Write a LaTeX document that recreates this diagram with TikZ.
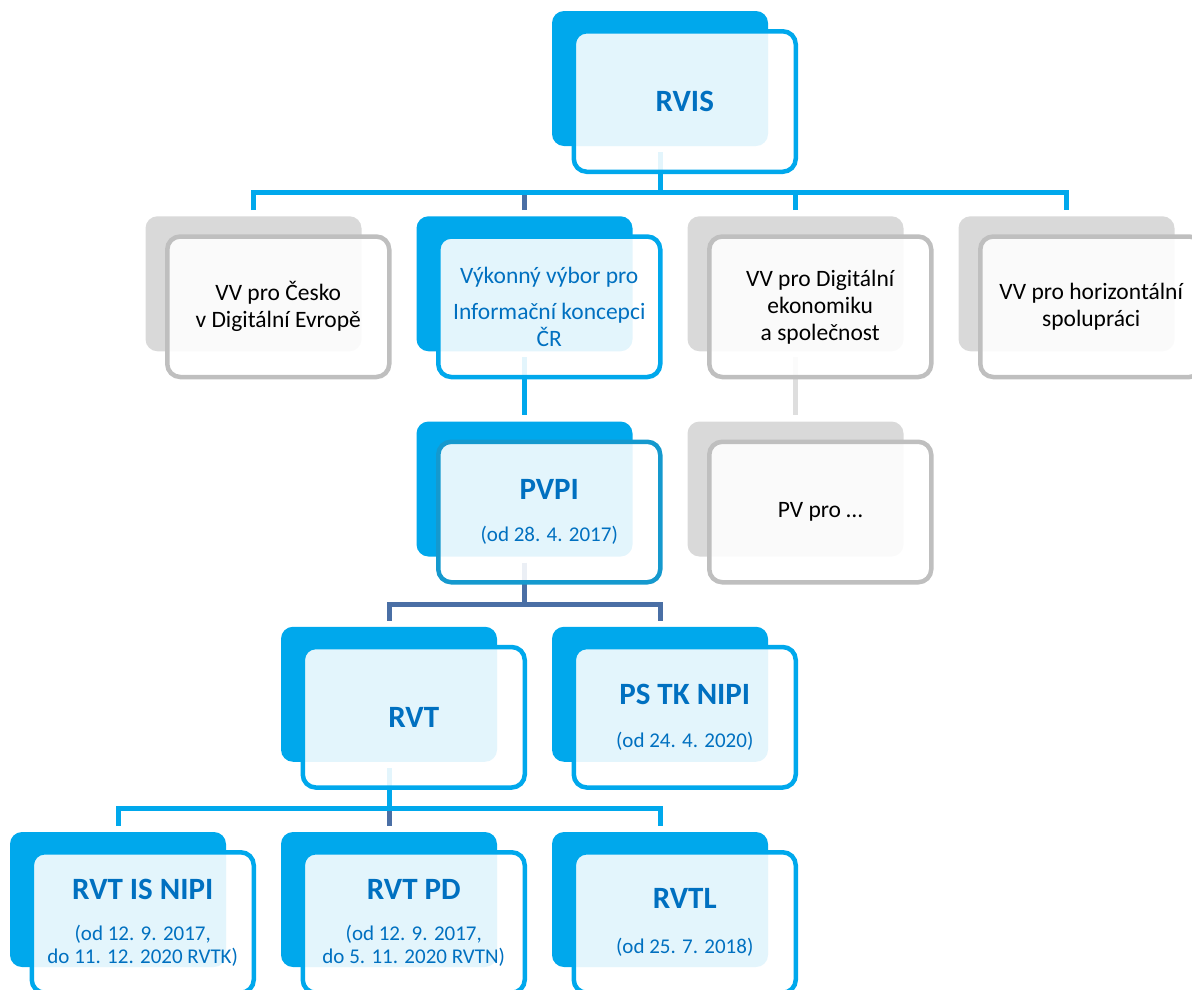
\documentclass[tikz,border=0pt]{standalone}
\usepackage{fontspec}
\setmainfont{Carlito}
\usetikzlibrary{calc}
\definecolor{cblue}{RGB}{0,168,236}
\definecolor{ctext}{RGB}{0,112,192}
\definecolor{cdark}{RGB}{74,111,165}
\definecolor{cgray}{RGB}{217,217,217}
\definecolor{cgrayb}{RGB}{191,191,191}
\definecolor{cpvpi}{RGB}{21,153,206}
\definecolor{cline}{RGB}{222,222,222}
\pgfdeclarelayer{back}
\pgfdeclarelayer{lines}
\pgfsetlayers{back,lines,main}
\tikzset{
  backbox/.style={rectangle, rounded corners=12pt, minimum width=216pt, minimum height=135pt, inner sep=0pt, fill=cblue},
  frontbox/.style={rectangle, rounded corners=13pt, minimum width=222pt, minimum height=140.5pt, inner sep=0pt, line width=4.5pt, draw=cblue, fill=white, fill opacity=0.89, text opacity=1, align=center, text=ctext, font=\fontsize{21pt}{23pt}\selectfont},
  grayback/.style={backbox, fill=cgray},
  grayfront/.style={frontbox, draw=cgrayb, text=black, font=\fontsize{23.5pt}{27pt}\selectfont},
  conn/.style={draw=cblue, line width=5pt},
  darkconn/.style={draw=cdark, line width=5pt},
  grayconn/.style={draw=cline, line width=5pt},
}
\newcommand\boxtitle[1]{{\fontsize{31pt}{31pt}\selectfont\bfseries #1}}
\newcommand\orgbox[6]{%
  \begin{pgfonlayer}{back}\node[#4] (#1-b) at (#2+108,#3+67.5) {};\end{pgfonlayer}
  \node[#5] (#1) at (#2+132.75,#3+90.5) {#6};}
\begin{document}
\begin{tikzpicture}[x=1pt,y=-1pt]
\useasboundingbox (0,0) rectangle (1192,989);
\clip (0,0) rectangle (1192,989);
\orgbox{rvis}{552}{11}{backbox}{frontbox}{\boxtitle{RVIS}}
\orgbox{cesko}{145.5}{216.25}{grayback}{grayfront}{VV pro Česko\\v Digitální Evropě}
\orgbox{vyk}{416.5}{216.25}{backbox}{frontbox,font=\fontsize{23.5pt}{27pt}\selectfont}{Výkonný výbor pro\\[9pt]Informační koncepci\\ČR}
\orgbox{digi}{687.5}{216.25}{grayback}{grayfront}{VV pro Digitální\\ekonomiku\\a společnost}
\orgbox{horiz}{958.5}{216.25}{grayback}{grayfront}{VV pro horizontální\\spolupráci}
\orgbox{pvpi}{416.5}{421.5}{backbox}{frontbox,draw=cpvpi}{\boxtitle{PVPI}\\[19pt](od 28. 4. 2017)}
\orgbox{pv}{687.5}{421.5}{grayback}{grayfront}{PV pro …}
\orgbox{rvt}{281}{626.75}{backbox}{frontbox}{\boxtitle{RVT}}
\orgbox{pstk}{552}{626.75}{backbox}{frontbox}{\boxtitle{PS TK NIPI}\\[20pt](od 24. 4. 2020)}
\orgbox{nipi}{10}{832}{backbox}{frontbox}{\boxtitle{RVT IS NIPI}\\[18pt](od 12. 9. 2017,\\do 11. 12. 2020 RVTK)}
\orgbox{rvtpd}{281}{832}{backbox}{frontbox}{\boxtitle{RVT PD}\\[18pt](od 12. 9. 2017,\\do 5. 11. 2020 RVTN)}
\orgbox{rvtl}{552}{832}{backbox}{frontbox}{\boxtitle{RVTL}\\[22pt](od 25. 7. 2018)}
\begin{pgfonlayer}{lines}
  \coordinate (bar1) at (660,192);
  \coordinate (bar2) at (524.5,604);
  \coordinate (bar3) at (389,808);
  % RVIS -> first row
  \draw[darkconn] ($(vyk-b.north)+(0,-6)$) -- ($(vyk-b.north |- bar1)+(0,2.5)$);
  \draw[conn] ($(rvis-b.south)+(0,6)$) -- (bar1);
  \draw[conn] ($(cesko-b.north)+(0,-6)$) |- (bar1) -| ($(horiz-b.north)+(0,-6)$);
  \draw[conn] ($(digi-b.north)+(0,-6)$) -- (digi-b.north |- bar1);
  % Vykonny vybor -> PVPI
  \draw[conn] ($(vyk-b.south)+(0,6)$) -- ($(pvpi-b.north)+(0,-6)$);
  % VV pro Digitalni -> PV pro
  \draw[grayconn] ($(digi-b.south)+(0,6)$) -- ($(pv-b.north)+(0,-6)$);
  % PVPI -> RVT, PS TK NIPI
  \draw[darkconn] ($(pvpi-b.south)+(0,6)$) -- (bar2);
  \draw[darkconn] ($(rvt-b.north)+(0,-6)$) |- (bar2) -| ($(pstk-b.north)+(0,-6)$);
  % RVT -> bottom row
  \draw[darkconn] ($(rvtpd-b.north)+(0,-6)$) -- ($(rvtpd-b.north |- bar3)+(0,2.5)$);
  \draw[conn] ($(rvt-b.south)+(0,6)$) -- (bar3);
  \draw[conn] ($(nipi-b.north)+(0,-6)$) |- (bar3) -| ($(rvtl-b.north)+(0,-6)$);
\end{pgfonlayer}
\end{tikzpicture}
\end{document}
